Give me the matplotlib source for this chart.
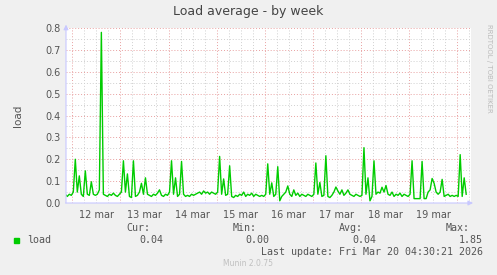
import numpy as np
import matplotlib
matplotlib.use("Agg")
import matplotlib.pyplot as plt

# hourly load samples, starting Mar 11 20:30 (hours relative to Mar 12 00:00)
start_hour = -3.5
load = [
    0.04, 0.03, 0.04,
    # Mar 12
    0.035, 0.05, 0.20, 0.05, 0.124, 0.04, 0.03, 0.147, 0.04, 0.035, 0.097, 0.04,
    0.035, 0.04, 0.06, 0.78, 0.04, 0.035, 0.03, 0.04, 0.035, 0.045, 0.035, 0.03,
    # Mar 13
    0.04, 0.05, 0.193, 0.05, 0.133, 0.03, 0.025, 0.193, 0.03, 0.035, 0.05, 0.09,
    0.04, 0.115, 0.04, 0.035, 0.03, 0.04, 0.035, 0.045, 0.06, 0.035, 0.03, 0.04,
    # Mar 14
    0.035, 0.05, 0.193, 0.04, 0.115, 0.03, 0.04, 0.19, 0.04, 0.03, 0.035, 0.03,
    0.04, 0.035, 0.04, 0.045, 0.05, 0.04, 0.055, 0.045, 0.05, 0.04, 0.05, 0.045,
    # Mar 15
    0.04, 0.05, 0.213, 0.04, 0.11, 0.035, 0.04, 0.17, 0.03, 0.025, 0.035, 0.03,
    0.04, 0.035, 0.05, 0.03, 0.04, 0.035, 0.045, 0.03, 0.04, 0.035, 0.03, 0.035,
    # Mar 16
    0.03, 0.04, 0.179, 0.04, 0.092, 0.03, 0.04, 0.166, 0.01, 0.03, 0.04, 0.05,
    0.078, 0.04, 0.03, 0.06, 0.035, 0.045, 0.03, 0.04, 0.035, 0.03, 0.04, 0.035,
    # Mar 17
    0.03, 0.04, 0.183, 0.04, 0.094, 0.03, 0.035, 0.216, 0.03, 0.025, 0.035, 0.05,
    0.073, 0.055, 0.04, 0.06, 0.035, 0.045, 0.06, 0.04, 0.035, 0.03, 0.04, 0.035,
    # Mar 18
    0.03, 0.035, 0.253, 0.04, 0.115, 0.01, 0.03, 0.193, 0.04, 0.05, 0.045, 0.072,
    0.05, 0.08, 0.04, 0.035, 0.05, 0.03, 0.04, 0.035, 0.045, 0.03, 0.04, 0.035,
    # Mar 19
    0.03, 0.04, 0.193, 0.02, 0.02, 0.02, 0.02, 0.19, 0.02, 0.02, 0.05, 0.06,
    0.112, 0.09, 0.05, 0.04, 0.05, 0.108, 0.03, 0.035, 0.04, 0.03, 0.035, 0.03,
    # Mar 20
    0.035, 0.03, 0.221, 0.03, 0.115, 0.04,
]
day_labels = ["12 mar", "13 mar", "14 mar", "15 mar", "16 mar", "17 mar", "18 mar", "19 mar"]
y_ticks = [0.0, 0.1, 0.2, 0.3, 0.4, 0.5, 0.6, 0.7, 0.8]

stat_names = ["Cur:", "Min:", "Avg:", "Max:"]
stat_values = ["0.04", "0.00", "0.04", "1.85"]

hours = start_hour + np.arange(len(load))

bg = "#F0F0F0"
fig = plt.figure(figsize=(4.97, 2.75), dpi=100, facecolor=bg)
ax = fig.add_axes([66 / 497, 72 / 275, 405 / 497, 175 / 275])
ax.set_facecolor("white")

x_min, x_max = -3.14, 198.9
ax.set_xlim(x_min, x_max)
ax.set_ylim(0, 0.8)

# grid: gray dotted minor, red dotted major
for h in np.arange(0, x_max, 6):
    if h % 24 != 0:
        ax.axvline(h, color="#d0d0d0", ls=(0, (1, 2)), lw=0.7, zorder=1)
for h in np.arange(0, x_max, 24):
    ax.axvline(h, color="#e8a0a0", ls=(0, (1, 2)), lw=0.7, zorder=1)
for v in np.arange(0.05, 0.8, 0.1):
    ax.axhline(v, color="#d0d0d0", ls=(0, (1, 2)), lw=0.7, zorder=1)
for v in y_ticks[1:]:
    ax.axhline(v, color="#e8a0a0", ls=(0, (1, 2)), lw=0.7, zorder=1)

ax.plot(hours, load, color="#00CC00", lw=1.0, zorder=3)

for s in ax.spines.values():
    s.set_visible(False)

ax.set_xticks([12 + 24 * i for i in range(len(day_labels))])
ax.set_xticklabels(day_labels)
ax.set_yticks(y_ticks)
ax.set_yticklabels([f"{v:.1f}" for v in y_ticks])
ax.tick_params(axis="both", length=0, labelsize=7, colors="#555555", pad=4)
ax.tick_params(axis="x", pad=5)
ax.set_ylabel("load", fontsize=7.5, color="#555555", labelpad=16)

# axis lines with arrows
axis_col = "#c8c8ff"
ax.annotate("", xy=(1.012, 0), xytext=(-0.008, 0), xycoords="axes fraction",
            arrowprops=dict(arrowstyle="-|>", color=axis_col, lw=0.8, mutation_scale=7),
            annotation_clip=False, zorder=4)
ax.annotate("", xy=(0, 1.035), xytext=(0, -0.015), xycoords="axes fraction",
            arrowprops=dict(arrowstyle="-|>", color=axis_col, lw=0.8, mutation_scale=7),
            annotation_clip=False, zorder=4)

fig.text(248 / 497, 1 - 12 / 275, "Load average - by week", ha="center", va="center",
         fontsize=9, color="#444444")
fig.text(489 / 497, 1 - 24 / 275, "RRDTOOL / TOBI OETIKER", rotation=270, ha="center",
         va="top", fontsize=5, color="#bbbbbb")

mono = "DejaVu Sans Mono"
fs = 7.2
stat_right = [150, 257, 363, 470]
value_right = [163, 269, 376, 483]
for name, xr in zip(stat_names, stat_right):
    fig.text(xr / 497, 1 - 228 / 275, name, ha="right", va="center", family=mono,
             fontsize=fs, color="#555555")
for val, xr in zip(stat_values, value_right):
    fig.text(xr / 497, 1 - 240 / 275, val, ha="right", va="center", family=mono,
             fontsize=fs, color="#555555")
fig.patches.append(plt.Rectangle((14 / 497, 1 - 243 / 275), 5 / 497, 5 / 275,
                                 transform=fig.transFigure, color="#00CC00"))
fig.text(27 / 497, 1 - 240 / 275, "load", ha="left", va="center", family=mono,
         fontsize=fs, color="#555555")
fig.text(483 / 497, 1 - 252 / 275, "Last update: Fri Mar 20 04:30:21 2026", ha="right",
         va="center", family=mono, fontsize=fs, color="#555555")
fig.text(248 / 497, 1 - 263 / 275, "Munin 2.0.75", ha="center", va="center",
         fontsize=5.5, color="#c0c0c0")

fig.savefig("out.png", dpi=100, facecolor=bg)
